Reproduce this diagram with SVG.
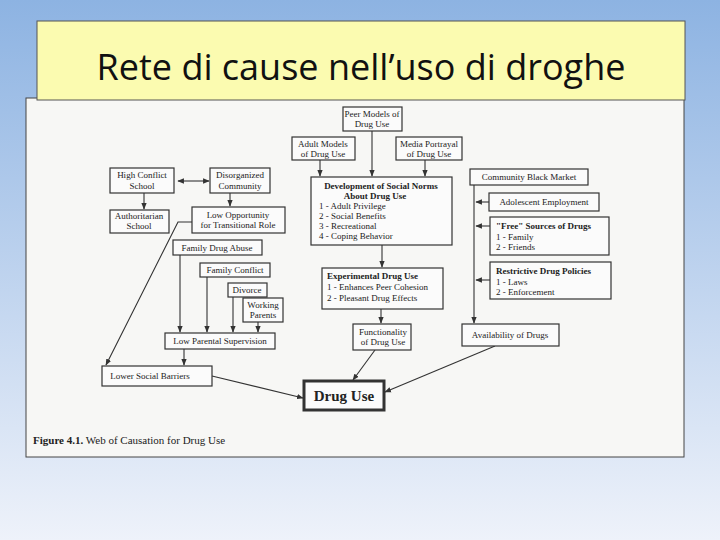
<svg xmlns="http://www.w3.org/2000/svg" width="720" height="540" viewBox="0 0 720 540">
<defs>
<linearGradient id="bg" x1="0" y1="0" x2="0" y2="1"><stop offset="0" stop-color="#8db3e2"/><stop offset="1" stop-color="#eef2fa"/></linearGradient>
<marker id="a" viewBox="0 0 10 10" refX="9" refY="5" markerWidth="6" markerHeight="6" orient="auto-start-reverse"><path d="M0,1 L10,5 L0,9 z" fill="#333"/></marker>
<style>
.n rect{fill:#fbfbfb;stroke:#333;stroke-width:1.2}
.n text{font-family:"Liberation Serif",serif;font-size:9px;fill:#222}
.b{font-weight:bold}
#edges path{fill:none;stroke:#333;stroke-width:1.1;marker-end:url(#a)}
</style>
</defs>
<rect width="720" height="540" fill="url(#bg)"/>
<rect x="26" y="98" width="658" height="359" fill="#f7f7f5" stroke="#444"/>
<g id="title"><rect x="37" y="21" width="648" height="79" fill="#fbfbb0" stroke="#555"/>
<text x="361" y="80" text-anchor="middle" font-family="Open Sans,Liberation Sans,sans-serif" font-size="36" fill="#111">Rete di cause nell’uso di droghe</text></g>
<g id="edges">
<path d="M372,131 V176"/><path d="M320,160 V176"/><path d="M425,160 V176"/>
<path d="M382,245 V267"/><path d="M381,309 V323"/>
<path d="M178,181 H209" style="marker-start:url(#a)"/>
<path d="M144,193 V209"/><path d="M230,193 V206"/>
<path d="M192,222 H178 L106,365"/>
<path d="M180,255 V332"/><path d="M207,277 V332"/><path d="M233,297 V332"/><path d="M258,322 V332"/>
<path d="M184,349 V365"/>
<path d="M212,376 L303,398"/><path d="M375,350 L353,380"/><path d="M495,346 L385,392"/>
<path d="M474,185 V323"/>
<path d="M489,202 H476"/><path d="M490,226 H476"/><path d="M490,280 H476"/>
</g>
<g class="n" id="peer"><rect x="343" y="107" width="59" height="24"/><text x="372" y="117" text-anchor="middle">Peer Models of</text><text x="372" y="127" text-anchor="middle">Drug Use</text></g>
<g class="n" id="adult"><rect x="292" y="137" width="63" height="23"/><text x="323" y="147" text-anchor="middle">Adult Models</text><text x="323" y="157" text-anchor="middle">of Drug Use</text></g>
<g class="n" id="media"><rect x="396" y="137" width="66" height="23"/><text x="429" y="147" text-anchor="middle">Media Portrayal</text><text x="429" y="157" text-anchor="middle">of Drug Use</text></g>
<g class="n" id="dev"><rect x="311" y="177" width="141" height="68"/><text x="381" y="189" text-anchor="middle" class="b">Development of Social Norms</text><text x="375" y="199" text-anchor="middle" class="b">About Drug Use</text><text x="319" y="209">1 - Adult Privilege</text><text x="319" y="219">2 - Social Benefits</text><text x="319" y="229">3 - Recreational</text><text x="319" y="239">4 - Coping Behavior</text></g>
<g class="n" id="hcs"><rect x="110" y="168" width="64" height="25"/><text x="142" y="178" text-anchor="middle">High Conflict</text><text x="142" y="189" text-anchor="middle">School</text></g>
<g class="n" id="dis"><rect x="210" y="168" width="60" height="25"/><text x="240" y="178" text-anchor="middle">Disorganized</text><text x="240" y="189" text-anchor="middle">Community</text></g>
<g class="n" id="auth"><rect x="110" y="210" width="59" height="23"/><text x="139" y="219" text-anchor="middle">Authoritarian</text><text x="139" y="229" text-anchor="middle">School</text></g>
<g class="n" id="lowopp"><rect x="192" y="207" width="93" height="26"/><text x="238" y="218" text-anchor="middle">Low Opportunity</text><text x="238" y="228" text-anchor="middle">for Transitional Role</text></g>
<g class="n" id="fda"><rect x="173" y="240" width="89" height="15"/><text x="217" y="251" text-anchor="middle">Family Drug Abuse</text></g>
<g class="n" id="fc"><rect x="200" y="263" width="70" height="14"/><text x="235" y="273" text-anchor="middle">Family Conflict</text></g>
<g class="n" id="div"><rect x="228" y="283" width="39" height="14"/><text x="247" y="293" text-anchor="middle">Divorce</text></g>
<g class="n" id="wp"><rect x="243" y="298" width="40" height="24"/><text x="263" y="308" text-anchor="middle">Working</text><text x="263" y="318" text-anchor="middle">Parents</text></g>
<g class="n" id="lps"><rect x="165" y="333" width="110" height="16"/><text x="220" y="344" text-anchor="middle">Low Parental Supervision</text></g>
<g class="n" id="lsb"><rect x="102" y="366" width="110" height="20"/><text x="150" y="379" text-anchor="middle">Lower Social Barriers</text></g>
<g class="n" id="exp"><rect x="322" y="268" width="121" height="41"/><text x="327" y="279" class="b">Experimental Drug Use</text><text x="327" y="290">1 - Enhances Peer Cohesion</text><text x="327" y="301">2 - Pleasant Drug Effects</text></g>
<g class="n" id="func"><rect x="353" y="324" width="58" height="26"/><text x="383" y="335" text-anchor="middle">Functionality</text><text x="383" y="345" text-anchor="middle">of Drug Use</text></g>
<g class="n" id="drug"><rect x="304" y="381" width="80" height="29" style="stroke-width:3"/><text x="344" y="401" text-anchor="middle" class="b" style="font-size:15px">Drug Use</text></g>
<g class="n" id="cbm"><rect x="470" y="169" width="118" height="16"/><text x="529" y="180" text-anchor="middle">Community Black Market</text></g>
<g class="n" id="ae"><rect x="489" y="193" width="110" height="18"/><text x="544" y="205" text-anchor="middle">Adolescent Employment</text></g>
<g class="n" id="free"><rect x="490" y="217" width="119" height="38"/><text x="496" y="229" class="b">"Free" Sources of Drugs</text><text x="496" y="240">1 - Family</text><text x="496" y="250">2 - Friends</text></g>
<g class="n" id="rdp"><rect x="490" y="262" width="121" height="37"/><text x="496" y="274" class="b">Restrictive Drug Policies</text><text x="496" y="285">1 - Laws</text><text x="496" y="295">2 - Enforcement</text></g>
<g class="n" id="avail"><rect x="462" y="324" width="97" height="22"/><text x="510" y="338" text-anchor="middle">Availability of Drugs</text></g>
<text x="33" y="444" font-family="Liberation Serif,serif" font-size="11" fill="#222"><tspan font-weight="bold">Figure 4.1.</tspan>  Web of Causation for Drug Use</text>
</svg>
